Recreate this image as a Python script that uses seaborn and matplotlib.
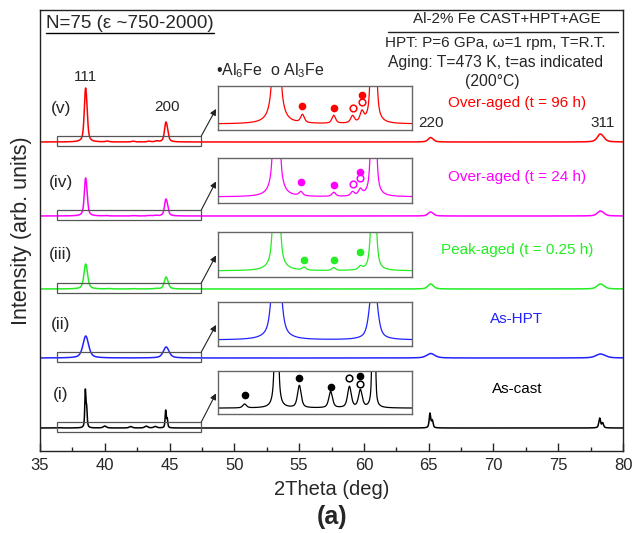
import numpy as np
import pandas as pd
import matplotlib
matplotlib.use("Agg")
import matplotlib.pyplot as plt
from matplotlib.patches import Rectangle
from matplotlib.lines import Line2D
from matplotlib.ticker import MultipleLocator
import seaborn as sns

# ---------------- data ----------------
samples = ["(i)", "(ii)", "(iii)", "(iv)", "(v)"]
conditions = ["As-cast", "As-HPT", "Peak-aged (t = 0.25 h)",
              "Over-aged (t = 24 h)", "Over-aged (t = 96 h)"]
colors = ["#000000", "#2222ff", "#22ee22", "#ff00ff", "#ff0000"]
offsets = [23, 93, 162, 235, 309]          # baseline of each pattern

al_hkl = ["111", "200", "220", "311"]
al_pos = [38.5, 44.7, 65.1, 78.2]          # 2theta of Al reflections
ka2_shift = [0.10, 0.12, 0.18, 0.23]       # K-alpha2 split
al_height = [[39, 18, 15, 10],
             [22, 11, 4.5, 4],
             [25, 12, 5, 5],
             [38, 17, 4, 5],
             [54, 20, 4.5, 8]]
al_hwhm = [[0.05, 0.05, 0.07, 0.08],
           [0.25, 0.25, 0.35, 0.40],
           [0.15, 0.15, 0.22, 0.28],
           [0.11, 0.12, 0.20, 0.25],
           [0.11, 0.12, 0.20, 0.25]]

# second-phase (Al6Fe / Al3Fe) reflections
phase_pos = [[36.5, 40.0, 42.0, 43.2, 43.9], [], [40.3, 42.2, 43.9],
             [40.1, 42.2, 43.4, 43.9], [40.2, 42.2, 43.4, 44.0]]
phase_height = [[0.33, 1.9, 1.4, 1.8, 1.5], [], [0.35, 0.35, 0.4],
                [0.4, 0.4, 0.4, 0.6], [0.8, 0.8, 0.7, 1.0]]
phase_hwhm = 0.14
inset_gain = [12, 6, 8, 10, 10]

# phase markers in the insets: position, height above baseline, kind
marker_pos = [[36.5, 40.0, 42.0, 43.2, 43.9, 43.9], [], [40.3, 42.2, 43.9],
              [40.1, 42.2, 43.4, 43.9, 43.9], [40.2, 42.2, 43.4, 44.0, 44.0]]
marker_h = [[13, 31, 22, 31, 33, 25], [], [11, 11, 18],
            [15, 12, 13, 18, 24], [18, 16, 16, 22, 29]]
marker_kind = [["Al6Fe", "Al6Fe", "Al6Fe", "Al3Fe", "Al6Fe", "Al3Fe"], [],
               ["Al6Fe", "Al6Fe", "Al6Fe"],
               ["Al6Fe", "Al6Fe", "Al3Fe", "Al3Fe", "Al6Fe"],
               ["Al6Fe", "Al6Fe", "Al3Fe", "Al3Fe", "Al6Fe"]]

two_theta = np.arange(34.8, 80.0001, 0.01)


def pv(x, x0, w, eta=0.6):
    u = ((x - x0) / w) ** 2
    return eta / (1 + u) + (1 - eta) * np.exp(-np.log(2) * u)


def pattern(i):
    y = np.zeros_like(two_theta)
    for p, s, h, w in zip(al_pos, ka2_shift, al_height[i], al_hwhm[i]):
        prof = pv(two_theta, p, w) + 0.5 * pv(two_theta, p + s, w)
        y += h * prof / prof.max()
    for p, h in zip(phase_pos[i], phase_height[i]):
        y += h * pv(two_theta, p, phase_hwhm)
    return y


# ---------------- figure ----------------
sns.set_style("ticks")
plt.rcParams["font.family"] = ["Liberation Sans", "DejaVu Sans"]
plt.rcParams["mathtext.fontset"] = "custom"
plt.rcParams["mathtext.rm"] = "Liberation Sans"
plt.rcParams["mathtext.it"] = "Liberation Sans:italic"

W, H = 634, 533
fig = plt.figure(figsize=(W / 100, H / 100), dpi=100)


def fx(px):
    return px / W


def fy(py):
    return 1 - py / H


ax = fig.add_axes([fx(40), fy(451), fx(623) - fx(40), fy(10) - fy(451)])
ax.set_xlim(35, 80)
ax.set_ylim(0, 441)

inset_top = [371, 302, 232, 158, 86]
inset_bottom = [414, 346, 277, 203, 130]
inset_xlim = (34.8, 47.2)
inset_ylim = (-6, 38)

for i in range(5):
    prof = pattern(i)
    base = offsets[i]
    sns.lineplot(x=two_theta, y=base + prof, color=colors[i], lw=1.1,
                 ax=ax, estimator=None, sort=False)
    # zoom box on main pattern
    ax.add_patch(Rectangle((36.3, base - 4), 11.1, 10, fill=False,
                           ec="#555555", lw=0.9, zorder=3))
    # sample labels
    ax.text(36.6, base + 34, samples[i], fontsize=12.5, ha="center",
            va="center")
    ax.text(71.8, base + 39, conditions[i], fontsize=11, ha="center",
            va="center", color=colors[i])

    # inset
    ins = fig.add_axes([fx(218), fy(inset_bottom[i]), fx(412) - fx(218),
                        fy(inset_top[i]) - fy(inset_bottom[i])])
    sel = (two_theta >= inset_xlim[0]) & (two_theta <= inset_xlim[1])
    sns.lineplot(x=two_theta[sel], y=inset_gain[i] * prof[sel],
                 color=colors[i], lw=0.9, ax=ins, estimator=None, sort=False)
    for p, h, k in zip(marker_pos[i], marker_h[i], marker_kind[i]):
        if k == "Al6Fe":
            ins.plot([p], [h], marker="o", ms=4.5, mfc=colors[i],
                     mec=colors[i], ls="none")
        else:
            ins.plot([p], [h], marker="o", ms=4.8, mfc="white",
                     mec=colors[i], mew=1.1, ls="none")
    ins.set_xlim(*inset_xlim)
    ins.set_ylim(*inset_ylim)
    ins.set_xticks([])
    ins.set_yticks([])
    ins.set_xlabel("")
    ins.set_ylabel("")
    for sp in ins.spines.values():
        sp.set_color("#666666")
        sp.set_linewidth(1.0)
    # arrow from zoom box to inset
    ax.annotate("", xy=(-0.01, 0.48), xycoords=ins.transAxes,
                xytext=(47.45, base + 6), textcoords="data",
                arrowprops=dict(arrowstyle="-|>", color="#222222", lw=0.8,
                                shrinkA=0, shrinkB=0, mutation_scale=9))

# hkl labels
ax.text(al_pos[0], 374, al_hkl[0], fontsize=11, ha="center", va="center")
ax.text(al_pos[1] + 0.1, 344, al_hkl[1], fontsize=11, ha="center",
        va="center")
ax.text(al_pos[2] + 0.1, 328, al_hkl[2], fontsize=11, ha="center",
        va="center")
ax.text(al_pos[3] + 0.2, 328, al_hkl[3], fontsize=11, ha="center",
        va="center")

# axes styling
ax.set_xlabel("2Theta (deg)", fontsize=14.5, labelpad=5)
ax.set_ylabel("Intensity (arb. units)", fontsize=15.5, labelpad=6)
ax.set_yticks([])
ax.xaxis.set_major_locator(MultipleLocator(5))
ax.xaxis.set_minor_locator(MultipleLocator(2.5))
ax.tick_params(axis="x", which="major", direction="in", length=6,
               width=1, labelsize=12, top=False, pad=5)
ax.tick_params(axis="x", which="minor", direction="in", length=3,
               width=1, top=False)
for sp in ax.spines.values():
    sp.set_visible(True)
    sp.set_color("#222222")
    sp.set_linewidth(1.0)

# header texts
t_n = fig.text(fx(46), fy(23), "N=75 (\u03b5 ~750-2000)", fontsize=13.5,
               ha="left", va="center")
fig.text(fx(507), fy(19), "Al-2% Fe CAST+HPT+AGE", fontsize=11,
         ha="center", va="center")
fig.add_artist(Line2D([fx(388), fx(618)], [fy(32), fy(32)],
                      transform=fig.transFigure, color="#222222", lw=1.0))
fig.text(fx(385), fy(43), "HPT: P=6 GPa, \u03c9=1 rpm, T=R.T.", fontsize=11,
         ha="left", va="center")
fig.text(fx(388), fy(63), "Aging: T=473 K, t=as indicated", fontsize=11.3,
         ha="left", va="center")
fig.text(fx(492), fy(81), "(200\u00b0C)", fontsize=11.3, ha="center",
         va="center")
fig.text(fx(216), fy(71), "\u2022Al$_6$Fe  o Al$_3$Fe", fontsize=11.5,
         ha="left", va="center")
fig.text(fx(332), fy(517), "(a)", fontsize=18, fontweight="bold",
         ha="center", va="center")

# underline of the N=75 text
fig.canvas.draw()
bb = t_n.get_window_extent(renderer=fig.canvas.get_renderer())
inv = fig.transFigure.inverted()
x0, y0 = inv.transform((bb.x0, bb.y0 - 1))
x1, _ = inv.transform((bb.x1, bb.y0 - 1))
fig.add_artist(Line2D([x0, x1], [y0, y0], transform=fig.transFigure,
                      color="black", lw=1.0))

fig.savefig("out.png", dpi=100)
